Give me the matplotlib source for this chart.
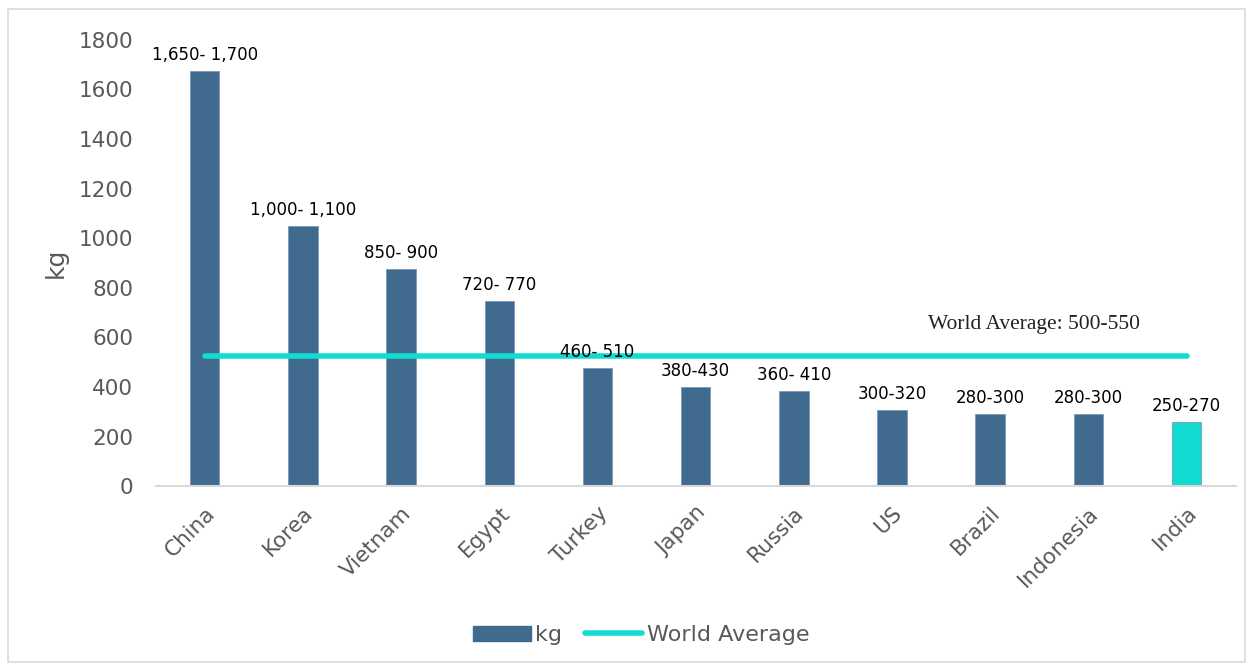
import numpy as np
import matplotlib.pyplot as plt
import matplotlib.transforms as mtransforms
from matplotlib.patches import Rectangle
from matplotlib.lines import Line2D

countries = ["China", "Korea", "Vietnam", "Egypt", "Turkey", "Japan",
             "Russia", "US", "Brazil", "Indonesia", "India"]
kg = [1675, 1050, 875, 748, 478, 400, 382, 308, 290, 290, 260]
labels = ["1,650- 1,700", "1,000- 1,100", "850- 900", "720- 770", "460- 510",
          "380-430", "360- 410", "300-320", "280-300", "280-300", "250-270"]
world_avg = 525

BLUE = "#416b8e"
CYAN = "#12dcd2"

fig = plt.figure(figsize=(12.5, 6.65), dpi=100)
ax = fig.add_axes([0.1245, 0.269, 0.864, 0.671])

x = np.arange(len(countries))
colors = [BLUE] * (len(countries) - 1) + [CYAN]
ax.bar(x, kg, width=0.3, color=colors, edgecolor="#7a9ab8", linewidth=0.6)
ax.plot([x[0], x[-1]], [world_avg, world_avg], color=CYAN, lw=4,
        solid_capstyle="round")

for xi, v, lab in zip(x, kg, labels):
    ax.text(xi, v + 28, lab, ha="center", va="bottom", fontsize=12,
            color="black")

ax.text(8.45, world_avg + 90, "World Average: 500-550", ha="center",
        va="bottom", fontsize=15.5, family="Liberation Serif", color="#222222")

ax.set_xlim(-0.5, len(countries) - 0.5)
ax.set_ylim(0, 1800)
ax.set_yticks(range(0, 1801, 200))
ax.tick_params(axis="y", length=0, labelsize=15.5, labelcolor="#595959", pad=16)
ax.set_xticks(x)
ax.set_xticklabels(countries, rotation=45, ha="right", rotation_mode="anchor",
                   fontsize=15.5, color="#595959")
shift = mtransforms.ScaledTranslation(6 / 72, 0, fig.dpi_scale_trans)
for t in ax.get_xticklabels():
    t.set_transform(t.get_transform() + shift)
ax.tick_params(axis="x", length=0, pad=12)
for s in ["top", "right", "left"]:
    ax.spines[s].set_visible(False)
ax.spines["bottom"].set_color("#d9d9d9")
ax.spines["bottom"].set_linewidth(1.5)
ax.set_ylabel("kg", fontsize=18, color="#595959", labelpad=8)

handles = [Rectangle((0, 0), 1, 1, color=BLUE),
           Line2D([0], [0], color=CYAN, lw=4, solid_capstyle="round")]
fig.legend(handles, ["kg", "World Average"], loc="center",
           bbox_to_anchor=(0.513, 0.045), ncol=2, frameon=False, fontsize=16,
           labelcolor="#595959", handlelength=2.6, handletextpad=0.2,
           columnspacing=1.0)

fig.patches.append(Rectangle((0.006, 0.004), 0.99, 0.982, transform=fig.transFigure,
                             fill=False, edgecolor="#d9d9d9", lw=1.2))

fig.savefig("out.png", dpi=100)
